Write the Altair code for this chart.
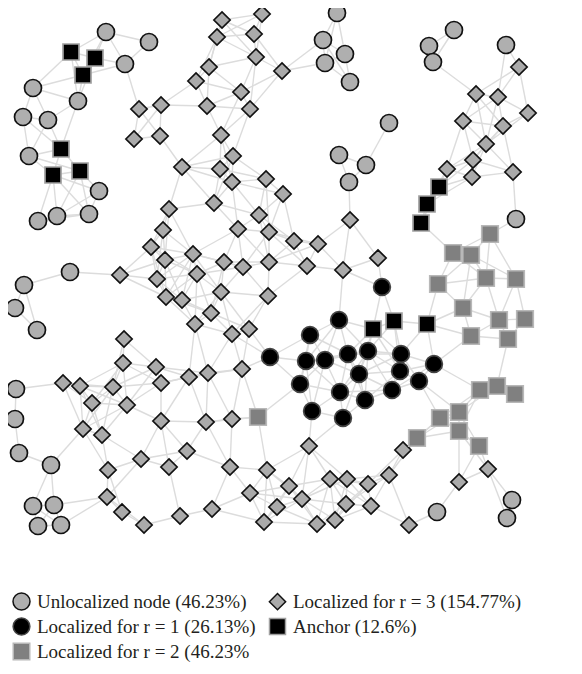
import altair as alt
import pandas as pd
import math

# ---------------- data (pixel positions) ----------------
UNLOC = "Unlocalized node (46.23%)"
R3 = "Localized for r = 3 (154.77%)"
R1 = "Localized for r = 1 (26.13%)"
ANC = "Anchor (12.6%)"
R2 = "Localized for r = 2 (46.23%"
# legend fills column by column: first column Unloc, r=1, r=2; second r=3, Anchor
order = [UNLOC, R1, R2, R3, ANC]

unloc_x = [106, 149, 125, 33, 78, 23, 48, 29, 99, 38, 57, 89, 70, 24, 15, 37, 16, 15, 19, 51,
           33, 54, 38, 61, 337, 323, 345, 325, 350, 339, 366, 349, 389, 454, 429, 433, 506, 516,
           437, 512, 507]
unloc_y = [32, 42, 64, 88, 101, 117, 120, 156, 191, 221, 216, 214, 272, 285, 308, 330, 389, 419, 453, 465,
           506, 505, 526, 525, 13, 40, 54, 63, 82, 155, 165, 182, 123, 30, 46, 62, 45, 219,
           512, 500, 518]

anchor_x = [71, 95, 83, 61, 53, 80, 439, 427, 421, 373, 394, 427]
anchor_y = [52, 58, 75, 149, 175, 171, 187, 204, 223, 329, 321, 324]

r1_x = [382, 339, 310, 270, 306, 325, 348, 368, 401, 434, 359, 400, 419, 300, 340, 392, 365, 312, 343]
r1_y = [287, 320, 335, 357, 361, 360, 354, 351, 354, 364, 374, 371, 381, 384, 392, 390, 400, 411, 418]

r2_x = [490, 453, 471, 486, 516, 438, 463, 499, 525, 471, 508, 480, 497, 515, 459, 440, 459, 417, 479, 258]
r2_y = [234, 253, 255, 278, 279, 284, 308, 320, 319, 336, 339, 390, 386, 394, 412, 418, 431, 438, 446, 417]

r3_x = [222, 262, 217, 254, 256, 209, 282, 196, 241, 207, 250, 139, 161, 134, 160, 221, 182, 233, 220, 232,
        266, 283, 214, 169, 259, 238, 269, 294, 318, 350, 163, 151, 193, 165, 224, 243, 269, 307, 343, 378,
        157, 197, 120, 166, 182, 221, 268, 211, 195, 232, 249,
        519, 476, 498, 528, 463, 503, 486, 473, 447, 472, 513,
        124, 123, 156, 189, 208, 242, 63, 80, 113, 161, 92, 127, 83, 102, 161, 206, 232, 108, 141,
        169, 187, 107, 122, 144, 180,
        309, 230, 267, 289, 330, 347, 368, 250, 302, 277, 346, 371, 212, 264, 317, 335,
        403, 389, 409, 459, 488]
r3_y = [20, 14, 37, 34, 57, 67, 71, 81, 92, 106, 109, 109, 105, 139, 136, 135, 167, 156, 169, 182,
        179, 194, 203, 209, 215, 229, 232, 241, 244, 220, 230, 247, 254, 260, 262, 267, 262, 266, 270, 258,
        279, 274, 275, 297, 300, 292, 296, 313, 324, 334, 329,
        67, 94, 97, 113, 121, 126, 144, 160, 169, 177, 172,
        339, 363, 367, 377, 373, 369, 383, 386, 387, 383, 403, 405, 429, 435, 421, 422, 419, 470, 459,
        467, 451, 497, 512, 525, 516,
        446, 467, 470, 486, 479, 479, 484, 493, 499, 507, 504, 506, 509, 522, 524, 520,
        450, 475, 525, 482, 469]

# radio range used to draw the links between neighbouring nodes
LINK_RANGE = 54

# ---------------- tables ----------------
rows = []
for xs, ys, t in [(r3_x, r3_y, R3), (unloc_x, unloc_y, UNLOC), (r2_x, r2_y, R2),
                  (r1_x, r1_y, R1), (anchor_x, anchor_y, ANC)]:
    for k, (x, y) in enumerate(zip(xs, ys)):
        rows.append({"x": x, "y": y, "type": t, "z": len(rows)})
nodes = pd.DataFrame(rows)

links = []
pts = nodes[["x", "y"]].values.tolist()
for i in range(len(pts)):
    for j in range(i + 1, len(pts)):
        if math.dist(pts[i], pts[j]) <= LINK_RANGE:
            links.append({"x": pts[i][0], "y": pts[i][1], "x2": pts[j][0], "y2": pts[j][1]})
links = pd.DataFrame(links)

W, H = 566, 660
xs = alt.Scale(domain=[8, 8 + W], nice=False, zero=False)
ys = alt.Scale(domain=[8, 8 + H], nice=False, zero=False, reverse=True)

edge_layer = alt.Chart(links).mark_rule(color="#dcdcdc", strokeWidth=1.4).encode(
    x=alt.X("x:Q", scale=xs, axis=None),
    y=alt.Y("y:Q", scale=ys, axis=None),
    x2="x2:Q",
    y2="y2:Q",
)

legend = alt.Legend(
    title=None, orient="none", legendX=4, legendY=584, columns=2, columnPadding=10,
    rowPadding=2, labelFont="Liberation Serif", labelFontSize=19, labelColor="#231f20",
    labelLimit=400, labelOffset=6, symbolStrokeWidth=1.5, padding=0,
)

node_layer = alt.Chart(nodes).mark_point(filled=True, opacity=1, strokeWidth=1.7).encode(
    x=alt.X("x:Q", scale=xs, axis=None),
    y=alt.Y("y:Q", scale=ys, axis=None),
    shape=alt.Shape("type:N", scale=alt.Scale(domain=order,
                    range=["circle", "circle", "square", "diamond", "square"]), legend=legend),
    fill=alt.Fill("type:N", scale=alt.Scale(domain=order,
                  range=["#afafaf", "#000000", "#808080", "#aaaaaa", "#000000"]), legend=legend),
    stroke=alt.Stroke("type:N", scale=alt.Scale(domain=order,
                      range=["#111111", "#444444", "#b8b8b8", "#111111", "#a0a0a0"]), legend=legend),
    size=alt.Size("type:N", scale=alt.Scale(domain=order,
                  range=[289, 256, 289, 289, 400]), legend=legend),
    order=alt.Order("z:Q"),
)

chart = alt.layer(edge_layer, node_layer).properties(
    width=W, height=H, autosize=alt.AutoSizeParams(type="none"), padding=0
).configure_view(stroke=None)

chart.save("out.html", embed_options={"renderer": "svg", "actions": False})
